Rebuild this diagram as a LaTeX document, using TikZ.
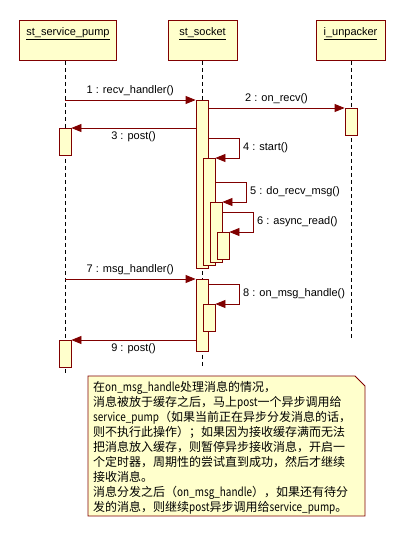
\documentclass[tikz,border=0pt]{standalone}
\usepackage{fontspec}
\setmainfont{Liberation Sans}
\newfontfamily\cjk{Noto Sans CJK SC}
\newfontfamily\cjklatin{Noto Sans CJK SC}[FakeStretch = 0.83]
\newcommand{\lat}[1]{{\cjklatin #1}}
\usetikzlibrary{arrows.meta}
\definecolor{umlred}{RGB}{128,0,0}
\definecolor{umlyellow}{RGB}{255,255,204}

\begin{document}
\begin{tikzpicture}[x = 1pt, y = -1pt, font = \fontsize{11}{13}\selectfont,
        head/.style = {draw = umlred, fill = umlyellow, line width = 0.8pt, minimum height = 40pt,
            inner ysep = 4pt, text height = 11pt, text depth = 21pt, anchor = north},
        bar/.style = {draw = umlred, fill = umlyellow, line width = 0.8pt, minimum width = 12pt,
            inner sep = 0pt, anchor = north},
        life/.style = {dash pattern = on 4pt off 3pt, line width = 0.7pt},
        msg/.style = {draw = umlred, line width = 0.8pt, -{Triangle[length = 10pt, width = 8pt]}},
        notebox/.style = {draw = umlred, fill = umlyellow, line width = 0.8pt},
        notetext/.style = {font = \cjk\fontsize{12}{15}\selectfont, align = left, text width = 280pt,
            inner sep = 0pt, anchor = north west}]
        \useasboundingbox (0,0) rectangle (405,538);

        % objects
        \node [head, minimum width = 97pt] (pump) at (68,20) {\underline{st\_service\_pump}};
        \node [head, minimum width = 69pt] (socket) at (202.5,20) {\underline{st\_socket}};
        \node [head, minimum width = 69pt] (unpacker) at (350.5,20) {\underline{i\_unpacker}};

        % lifelines
        \coordinate (pumpend) at (65,375);
        \coordinate (socketend) at (202,368);
        \coordinate (unpackerend) at (351,339);
        \draw [life] (pump.south -| pumpend) -- (pumpend);
        \draw [life] (socket.south -| socketend) -- (socketend);
        \draw [life] (unpacker.south -| unpackerend) -- (unpackerend);

        % activations
        \node [bar, minimum height = 168pt] (s1) at (202,100) {};
        \node [bar, minimum height = 27pt] (u1) at (351,108) {};
        \node [bar, minimum height = 27pt] (p1) at (65,128) {};
        \node [bar, minimum height = 107pt] (s2) at (209,158) {};
        \node [bar, minimum height = 60pt] (s3) at (216,202) {};
        \node [bar, minimum height = 27pt] (s4) at (223,232) {};
        \node [bar, minimum height = 72pt] (s5) at (202,279) {};
        \node [bar, minimum height = 27pt] (s6) at (209,304) {};
        \node [bar, minimum height = 27pt] (p2) at (65,340) {};

        % messages
        \coordinate (c4) at ([yshift = 20pt]s2.north east);
        \coordinate (c5) at ([yshift = 20pt]s3.north east);
        \coordinate (c6) at ([yshift = 20pt]s4.north east);
        \coordinate (c8) at ([yshift = 20pt]s6.north east);

        \draw [msg] (s1.north west -| pumpend) -- node [above] {1 : recv\_handler()} (s1.north west);
        \draw [msg] (u1.north west -| s1.east) -- node [above] {2 : on\_recv()} (u1.north west);
        \draw [msg] (p1.north east -| s1.west) -- node [below] {3 : post()} (p1.north east);
        \draw [msg] (c4 -| s1.east) -- ++(31,0) |- node [pos = 0.25, right] {4 : start()} (s2.north east);
        \draw [msg] (c5 -| s2.east) -- ++(31,0) |- node [pos = 0.25, right] {5 : do\_recv\_msg()} (s3.north east);
        \draw [msg] (c6 -| s3.east) -- ++(31,0) |- node [pos = 0.25, right] {6 : async\_read()} (s4.north east);
        \draw [msg] (s5.north west -| pumpend) -- node [above] {7 : msg\_handler()} (s5.north west);
        \draw [msg] (c8 -| s5.east) -- ++(31,0) |- node [pos = 0.25, right] {8 : on\_msg\_handle()} (s6.north east);
        \draw [msg] (p2.north east -| s5.west) -- node [below] {9 : post()} (p2.north east);

        % note
        \draw [notebox] (88,376) -- (355,376) -- (365,386) -- (365,516) -- (88,516) -- cycle;
        \node [notetext] (note) at (93,381) {在\lat{on\_msg\_handle}处理消息的情况，\\
            消息被放于缓存之后，马上\lat{post}一个异步调用给\\
            \lat{service\_pump}（如果当前正在异步分发消息的话，\\
            则不执行此操作）；如果因为接收缓存满而无法\\
            把消息放入缓存，则暂停异步接收消息，开启一\\
            个定时器，周期性的尝试直到成功，然后才继续\\
            接收消息。\\
            消息分发之后（\lat{on\_msg\_handle}），如果还有待分\\
            发的消息，则继续\lat{post}异步调用给\lat{service\_pump}。};
    \end{tikzpicture}
\end{document}
